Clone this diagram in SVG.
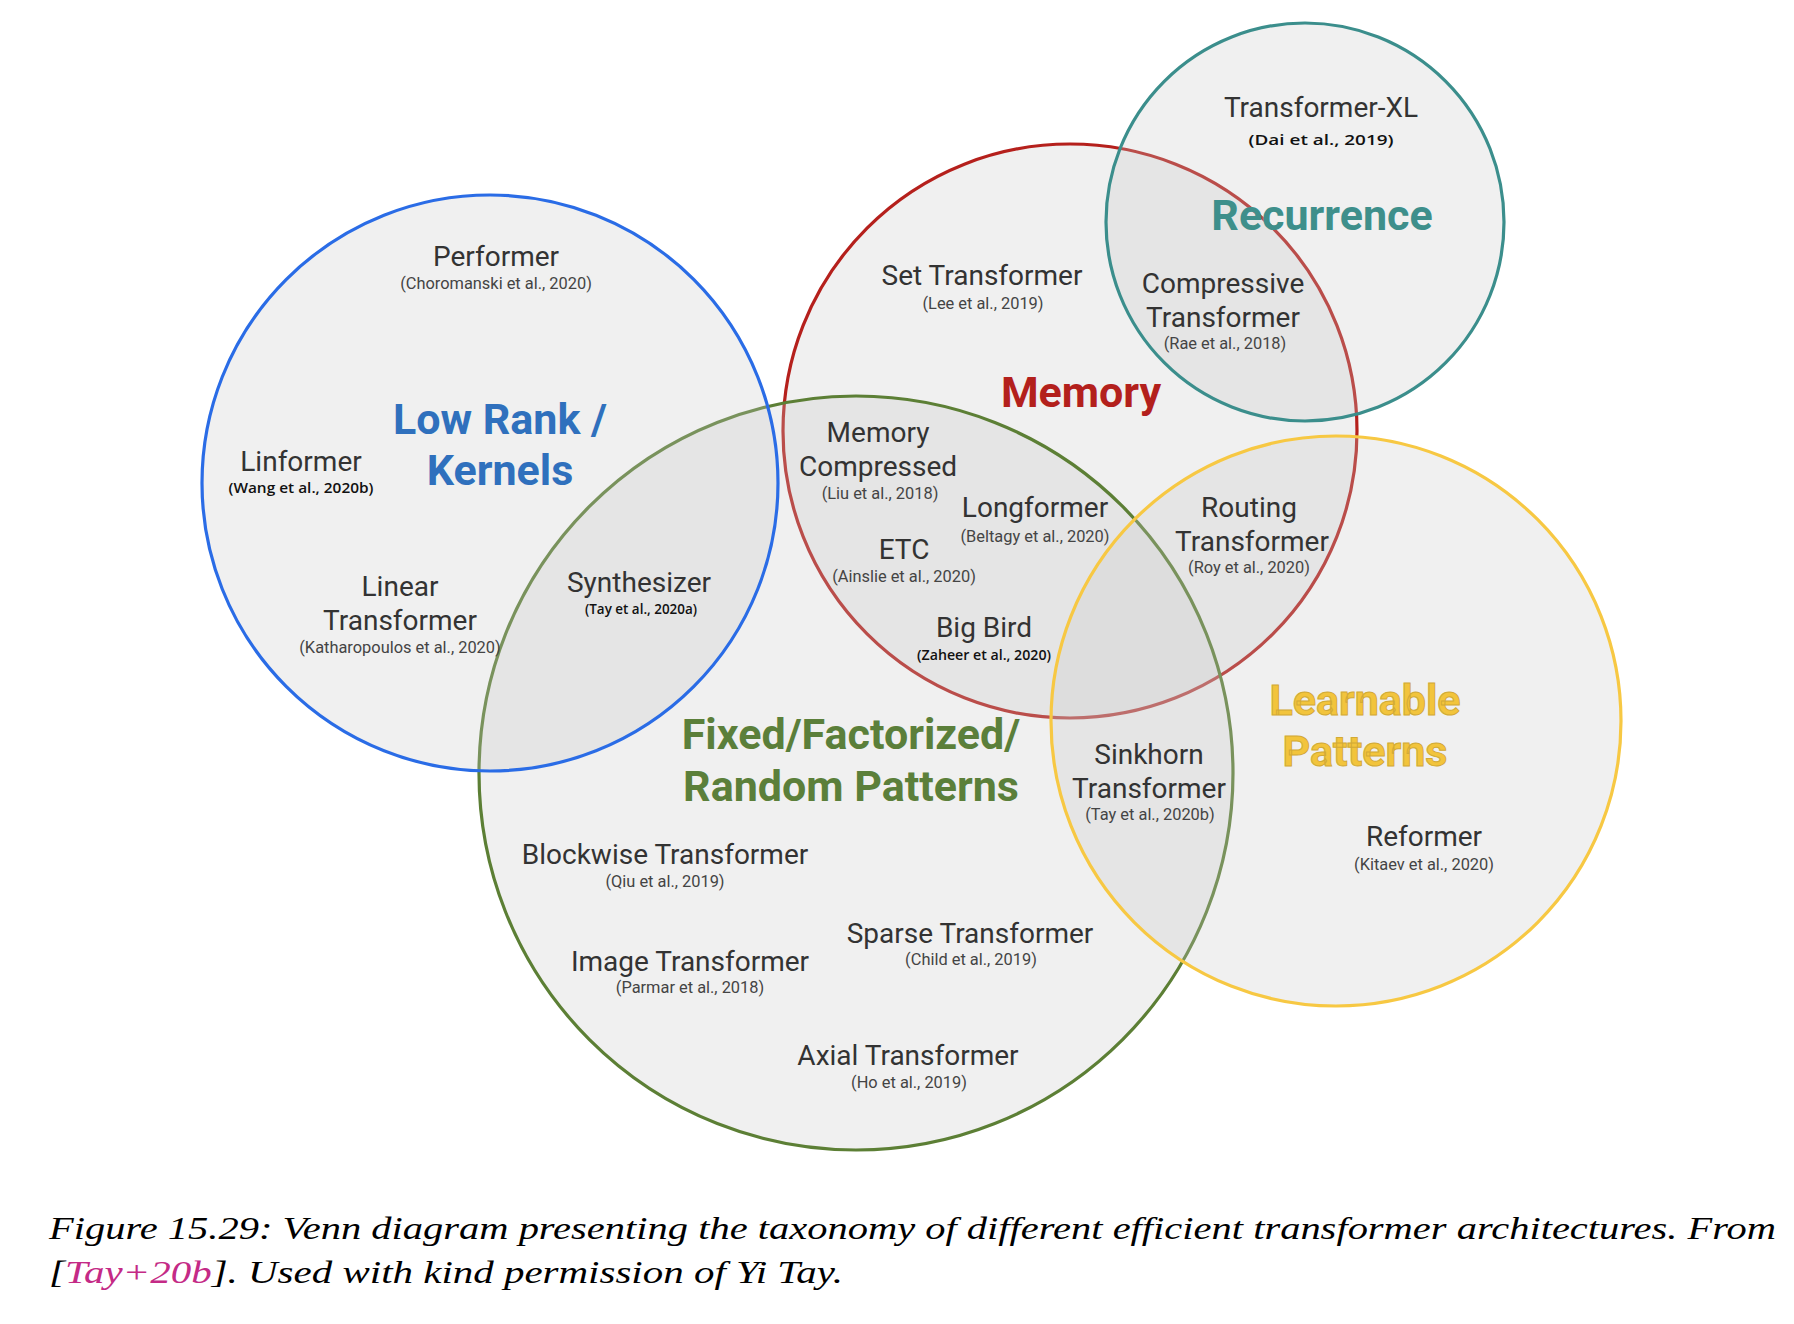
<svg xmlns="http://www.w3.org/2000/svg" width="1794" height="1324" viewBox="0 0 1794 1324">
<style>
.set{fill:rgb(199,199,199);fill-opacity:0.27;stroke-width:3.2}
.lbl{font-family:Roboto,"Liberation Sans",sans-serif;font-size:28px;fill:#333;text-anchor:middle}
.cit{font-family:Roboto,"Liberation Sans",sans-serif;font-size:16.4px;fill:#444;text-anchor:middle}
.citb{font-family:"Open Sans","Liberation Sans",sans-serif;font-size:15px;font-weight:600;fill:#111;text-anchor:middle}
.ttl{font-family:Roboto,"Liberation Sans",sans-serif;font-size:43px;font-weight:700;text-anchor:middle}
.cap{font-family:"Liberation Serif","DejaVu Serif",serif;font-style:italic;font-size:32px;fill:#000}
</style>
<rect width="1794" height="1324" fill="#fff"/>
<g id="sets">
<g id="memory"><circle class="set" cx="1070" cy="431" r="287" stroke="#b5201c"/></g>
<g id="recurrence"><circle class="set" cx="1305" cy="222" r="199" stroke="#3b8e8c"/></g>
<g id="fixed"><circle class="set" cx="856" cy="773" r="377" stroke="#5c7f35"/></g>
<g id="learnable"><circle class="set" cx="1336" cy="721" r="285" stroke="#f7c843"/></g>
<g id="lowrank"><circle class="set" cx="490" cy="483" r="288" stroke="#2a6ce6"/></g>
</g>
<g id="connectors"></g>
<g id="titles">
<text class="ttl" x="500" y="434" fill="#2f70bd" font-size="44">Low Rank /</text>
<text class="ttl" x="500" y="485" fill="#2f70bd" font-size="44">Kernels</text>
<text class="ttl" x="1081" y="407" fill="#b3201c">Memory</text>
<text class="ttl" x="1322" y="230" fill="#3e8f8b">Recurrence</text>
<text class="ttl" x="851" y="749" fill="#5b7f3a" font-size="44">Fixed/Factorized/</text>
<text class="ttl" x="851" y="801" fill="#5b7f3a" font-size="44">Random Patterns</text>
<text class="ttl" x="1365" y="715" fill="#f2c43c" stroke="#d2aa36" stroke-width="1" font-weight="500">Learnable</text>
<text class="ttl" x="1365" y="766" fill="#f2c43c" stroke="#d2aa36" stroke-width="1" font-weight="500">Patterns</text>
</g>
<g id="performer"><text class="lbl" x="496" y="266">Performer</text><text class="cit" x="496" y="289">(Choromanski et al., 2020)</text></g>
<g id="linformer"><text class="lbl" x="301" y="471">Linformer</text><text class="citb" x="301" y="493" font-weight="400" textLength="145" lengthAdjust="spacingAndGlyphs">(Wang et al., 2020b)</text></g>
<g id="linear-transformer"><text class="lbl" x="400" y="596">Linear</text><text class="lbl" x="400" y="630">Transformer</text><text class="cit" x="400" y="653">(Katharopoulos et al., 2020)</text></g>
<g id="synthesizer"><text class="lbl" x="639" y="592">Synthesizer</text><text class="citb" x="641" y="614" font-size="14" textLength="112" lengthAdjust="spacingAndGlyphs">(Tay et al., 2020a)</text></g>
<g id="set-transformer"><text class="lbl" x="982" y="285">Set Transformer</text><text class="cit" x="983" y="309">(Lee et al., 2019)</text></g>
<g id="compressive-transformer"><text class="lbl" x="1223" y="293">Compressive</text><text class="lbl" x="1223" y="327">Transformer</text><text class="cit" x="1225" y="349">(Rae et al., 2018)</text></g>
<g id="transformer-xl"><text class="lbl" x="1321" y="117">Transformer-XL</text><text class="citb" x="1321" y="145" font-size="20" textLength="145" lengthAdjust="spacingAndGlyphs">(Dai et al., 2019)</text></g>
<g id="memory-compressed"><text class="lbl" x="878" y="442">Memory</text><text class="lbl" x="878" y="476">Compressed</text><text class="cit" x="880" y="499">(Liu et al., 2018)</text></g>
<g id="longformer"><text class="lbl" x="1035" y="517">Longformer</text><text class="cit" x="1035" y="542">(Beltagy et al., 2020)</text></g>
<g id="etc"><text class="lbl" x="904" y="559">ETC</text><text class="cit" x="904" y="582">(Ainslie et al., 2020)</text></g>
<g id="big-bird"><text class="lbl" x="984" y="637">Big Bird</text><text class="citb" x="984" y="660" textLength="134" lengthAdjust="spacingAndGlyphs">(Zaheer et al., 2020)</text></g>
<g id="routing-transformer"><text class="lbl" x="1249" y="517">Routing</text><text class="lbl" x="1252" y="551">Transformer</text><text class="cit" x="1249" y="573">(Roy et al., 2020)</text></g>
<g id="sinkhorn-transformer"><text class="lbl" x="1149" y="764">Sinkhorn</text><text class="lbl" x="1149" y="798">Transformer</text><text class="cit" x="1150" y="820">(Tay et al., 2020b)</text></g>
<g id="reformer"><text class="lbl" x="1424" y="846">Reformer</text><text class="cit" x="1424" y="870">(Kitaev et al., 2020)</text></g>
<g id="blockwise-transformer"><text class="lbl" x="665" y="864">Blockwise Transformer</text><text class="cit" x="665" y="887">(Qiu et al., 2019)</text></g>
<g id="sparse-transformer"><text class="lbl" x="970" y="943">Sparse Transformer</text><text class="cit" x="971" y="965">(Child et al., 2019)</text></g>
<g id="image-transformer"><text class="lbl" x="690" y="971">Image Transformer</text><text class="cit" x="690" y="993">(Parmar et al., 2018)</text></g>
<g id="axial-transformer"><text class="lbl" x="908" y="1065">Axial Transformer</text><text class="cit" x="909" y="1088">(Ho et al., 2019)</text></g>
<g id="caption">
<text class="cap" x="49" y="1239" textLength="1727" lengthAdjust="spacingAndGlyphs">Figure 15.29: Venn diagram presenting the taxonomy of different efficient transformer architectures. From</text>
<text class="cap" x="49" y="1283" textLength="794" lengthAdjust="spacingAndGlyphs">[<tspan fill="#c42a86">Tay+20b</tspan>]. Used with kind permission of Yi Tay.</text>
</g>
</svg>
